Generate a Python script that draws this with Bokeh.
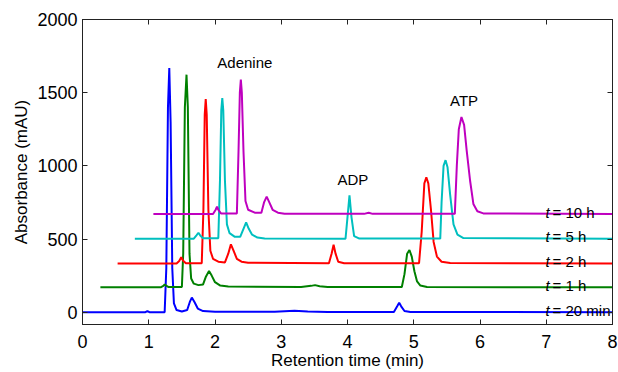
from bokeh.plotting import figure
from bokeh.models import LinearAxis, Range1d
from bokeh.core.properties import value
from bokeh.embed import file_html
from bokeh.resources import INLINE

FONT = "Liberation Sans"

# ---- data (retention time in min, absorbance in mAU) ----
t20_x = [0, 0.95, 0.98, 1.01, 1.24, 1.265, 1.29, 1.31, 1.33, 1.355, 1.38, 1.42, 1.5, 1.58, 1.62, 1.65, 1.69,
         1.74, 1.82, 2.0, 2.9, 3.2, 3.4, 3.7, 4.70, 4.75, 4.78, 4.81, 4.86, 4.95, 8]
t20_y = [0, 0, 8, 0, 0, 300, 1400, 1669, 1300, 300, 60, 15, 5, 15, 70, 100, 70,
         25, 8, 3, 3, 10, 4, 2, 2, 40, 64, 40, 8, 2, 0]

t1_x = [0.27, 1.18, 1.22, 1.24, 1.27, 1.30, 1.50, 1.52, 1.545, 1.57, 1.59, 1.615, 1.64, 1.68, 1.75, 1.82, 1.86,
        1.91, 1.95, 2.0, 2.08, 2.2, 3.3, 3.45, 3.51, 3.58, 3.7, 4.82, 4.86, 4.90, 4.935, 4.97, 5.01, 5.05, 5.1,
        5.2, 8]
t1_y = [170, 170, 180, 189, 180, 172, 172, 400, 1400, 1623, 1400, 400, 230, 195, 185, 190, 240,
        281, 250, 205, 182, 175, 173, 180, 185, 178, 172, 172, 260, 400, 425, 380, 280, 210, 182,
        172, 170]

t2_x = [0.53, 1.42, 1.46, 1.49, 1.52, 1.56, 1.80, 1.825, 1.845, 1.86, 1.875, 1.90, 1.93, 1.97, 2.05, 2.15,
        2.20, 2.24, 2.28, 2.33, 2.40, 2.5, 3.72, 3.76, 3.79, 3.82, 3.86, 3.95, 5.08, 5.12, 5.16, 5.19, 5.22,
        5.26, 5.30, 5.35, 5.42, 5.55, 8]
t2_y = [333, 333, 350, 375, 352, 335, 335, 700, 1350, 1457, 1350, 700, 420, 365, 345, 340,
        400, 464, 420, 365, 345, 338, 335, 400, 461, 400, 345, 335, 335, 550, 880, 922, 880,
        700, 480, 380, 345, 336, 333]

t5_x = [0.79, 1.68, 1.72, 1.75, 1.78, 1.82, 2.05, 2.075, 2.095, 2.11, 2.125, 2.15, 2.18, 2.22, 2.30, 2.38,
        2.43, 2.47, 2.51, 2.56, 2.64, 2.75, 3.97, 4.00, 4.03, 4.06, 4.10, 4.18, 5.40, 5.42, 5.45, 5.48,
        5.51, 5.55, 5.60, 5.66, 5.75, 8]
t5_y = [502, 502, 525, 543, 522, 505, 505, 900, 1380, 1463, 1380, 900, 600, 540, 515, 515,
        570, 614, 570, 530, 510, 504, 502, 650, 799, 650, 520, 503, 503, 750, 1000, 1039,
        990, 800, 600, 530, 507, 502]

t10_x = [1.07, 1.97, 2.01, 2.03, 2.05, 2.09, 2.33, 2.355, 2.375, 2.39, 2.405, 2.43, 2.46, 2.50, 2.60, 2.70,
         2.74, 2.78, 2.82, 2.87, 2.95, 3.05, 4.25, 4.32, 4.38, 5.62, 5.65, 5.68, 5.72, 5.76, 5.80, 5.85,
         5.90, 5.96, 6.05, 8]
t10_y = [671, 671, 700, 721, 700, 675, 675, 1100, 1500, 1589, 1500, 1100, 760, 700, 680, 680,
         750, 790, 750, 700, 680, 673, 672, 680, 672, 672, 1000, 1250, 1334, 1280, 1100, 900,
         740, 690, 675, 671]

series_x = [t20_x, t1_x, t2_x, t5_x, t10_x]
series_y = [t20_y, t1_y, t2_y, t5_y, t10_y]
series_colors = ["#0000ff", "#008000", "#ff0000", "#00bfbf", "#bf00bf"]
series_labels = ["20 min", "1 h", "2 h", "5 h", "10 h"]
series_baselines = [0, 170, 333, 502, 671]
label_x = 6.99

peak_names = ["Adenine", "ADP", "ATP"]
peak_label_x = [2.45, 4.08, 5.76]
peak_label_y = [1703, 904, 1447]

x_ticks = [0, 1, 2, 3, 4, 5, 6, 7, 8]
y_ticks = [0, 500, 1000, 1500, 2000]

p = figure(width=618, height=372, output_backend="svg", toolbar_location=None,
           x_range=Range1d(0, 8), y_range=Range1d(-84, 2000),
           min_border_left=82, min_border_right=6, min_border_top=19, min_border_bottom=46)
p.background_fill_color = "white"
p.border_fill_color = "white"
p.outline_line_color = "black"
p.xgrid.visible = False
p.ygrid.visible = False

top_axis = LinearAxis(major_label_overrides={t: "" for t in x_ticks})
right_axis = LinearAxis(major_label_overrides={t: "" for t in y_ticks})
p.add_layout(top_axis, "above")
p.add_layout(right_axis, "right")

for ax in p.axis:
    ax.axis_line_color = "#222222"
    ax.axis_line_width = 1
    ax.major_tick_in = 5
    ax.major_tick_out = 0
    ax.minor_tick_in = 0
    ax.minor_tick_out = 0
    ax.major_tick_line_color = "#222222"
    ax.major_label_text_font = FONT
    ax.major_label_text_font_size = "18px"
    ax.major_label_text_color = "black"
    ax.axis_label_text_font = FONT
    ax.axis_label_text_font_size = "17px"
    ax.axis_label_text_font_style = "normal"
    ax.axis_label_text_color = "black"

p.xaxis.ticker = x_ticks
p.yaxis.ticker = y_ticks

top_axis.major_label_text_font_size = "1px"
top_axis.major_label_standoff = 0
right_axis.major_label_text_font_size = "1px"
right_axis.major_label_standoff = 0

p.below[0].axis_label = "Retention time (min)"
p.below[0].major_label_standoff = 10
p.below[0].axis_label_standoff = 0
p.left[0].axis_label = "Absorbance (mAU)"
p.left[0].major_label_standoff = 5
p.left[0].axis_label_standoff = 3

for xs, ys, c in zip(series_x, series_y, series_colors):
    p.line(xs, ys, line_color=c, line_width=2)

p.text(x=peak_label_x, y=peak_label_y, text=peak_names, text_font=value(FONT),
       text_font_size="15px", text_align="center", text_baseline="alphabetic", text_color="black")

p.text(x=[label_x] * len(series_labels), y=series_baselines, text=["t"] * len(series_labels),
       text_font=value(FONT), text_font_size="15px", text_font_style="italic",
       text_align="left", text_baseline="alphabetic", y_offset=-2, text_color="black")
p.text(x=[label_x] * len(series_labels), y=series_baselines, text=["= " + s for s in series_labels],
       text_font=value(FONT), text_font_size="15px", x_offset=7,
       text_align="left", text_baseline="alphabetic", y_offset=-2, text_color="black")

open("out.html", "w").write(file_html(p, INLINE))
